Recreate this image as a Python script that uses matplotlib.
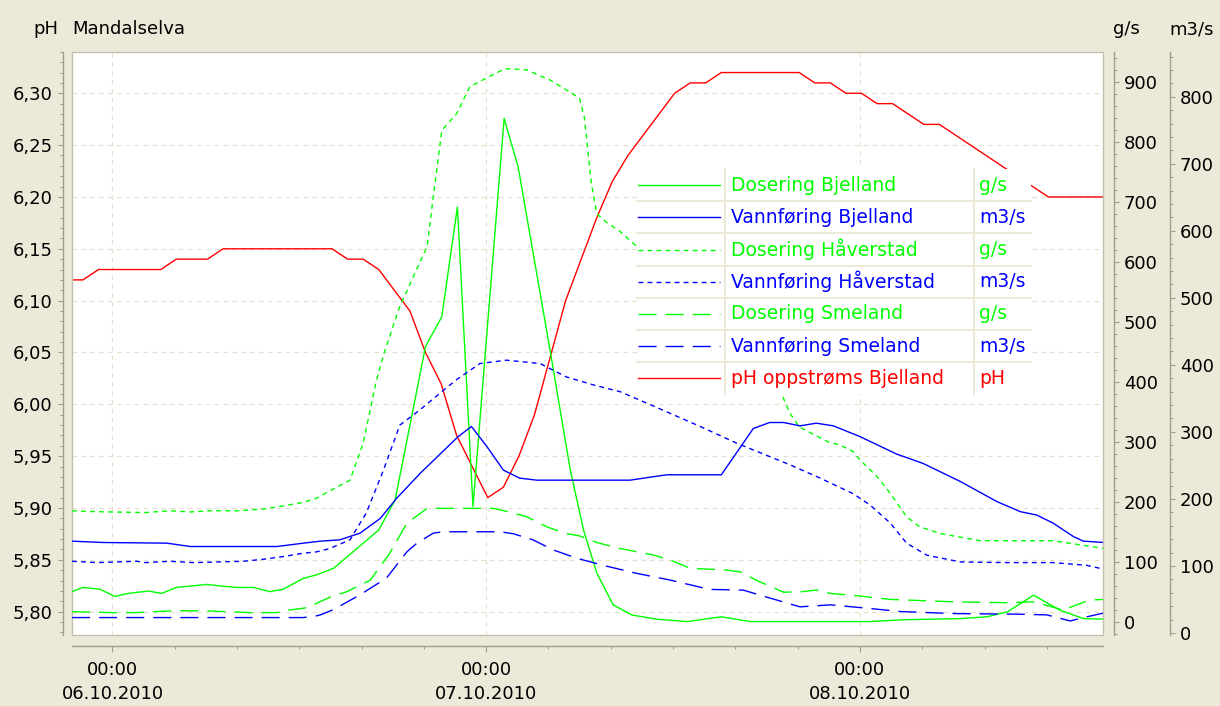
import numpy as np
import pandas as pd
import matplotlib
matplotlib.use("Agg")
import matplotlib.pyplot as plt
import matplotlib.dates as mdates
from matplotlib.ticker import MultipleLocator, FuncFormatter
from matplotlib.lines import Line2D
from matplotlib.patches import Rectangle

plt.rcParams['font.family'] = ['DejaVu Sans']

BASE = pd.Timestamp('2010-10-06 00:00')

# ---- data (hours since 06.10.2010 00:00) ----
ph_hours = [-2.9, -1.9, -0.9, 0.1, 3.1, 4.1, 6.1, 7.1, 14.1, 15.1, 16.1, 17.1, 18.1, 19.1, 20.1,
            21.1, 22.1, 23.1, 24.1, 25.1, 26.1, 27.1, 28.1, 29.1, 30.1, 31.1, 32.1, 33.1, 34.1,
            35.1, 36.1, 37.1, 38.1, 39.1, 44.1, 45.1, 46.1, 47.1, 48.1, 49.1, 50.1, 51.1, 52.1,
            53.1, 54.1, 55.1, 56.1, 57.1, 58.1, 59.1, 60.1, 64.1]
ph_values = [6.12, 6.12, 6.13, 6.13, 6.13, 6.14, 6.14, 6.15, 6.15, 6.14, 6.14, 6.13, 6.11, 6.09,
             6.05, 6.02, 5.97, 5.94, 5.91, 5.92, 5.95, 5.99, 6.045, 6.10, 6.14, 6.18, 6.215, 6.24,
             6.26, 6.28, 6.30, 6.31, 6.31, 6.32, 6.32, 6.31, 6.31, 6.30, 6.30, 6.29, 6.29, 6.28,
             6.27, 6.27, 6.26, 6.25, 6.24, 6.23, 6.22, 6.21, 6.20, 6.20]

dos_bj_hours = [-2.6, -1.9, -0.8, 0.15, 1.0, 2.3, 3.15, 4.1, 4.9, 6.05, 7.1, 8.0, 9.05, 10.1, 10.95,
                12.25, 13.1, 14.2, 15.7, 17.1, 18.15, 20.1, 21.15, 22.15, 23.15, 25.15, 26.05, 28.1,
                29.4, 30.25, 31.1, 32.15, 33.35, 34.95, 36.9, 39.1, 40.95, 48.65, 50.7, 54.45, 56.15,
                57.45, 59.15, 60.85, 62.35, 63.7]
dos_bj_values = [50, 57, 54, 42, 47, 51, 47, 57, 59, 62, 59, 57, 57, 50, 54, 72, 78, 89, 122, 153,
                 203, 459, 509, 692, 192, 840, 759, 453, 253, 153, 81, 28, 11, 4, 0, 8, 0, 0, 3, 5,
                 8, 16, 44, 19, 5, 4]

dos_hv_hours = [-2.6, -1.9, -0.15, 2.1, 3.7, 5.0, 6.25, 8.2, 9.7, 10.95, 12.25, 13.1, 13.95, 15.25,
                16.1, 16.95, 17.5, 18.45, 20.2, 20.6, 21.15, 22.1, 22.95, 25.2, 26.6, 28.1, 29.5,
                30.0, 30.3, 30.75, 31.1, 31.65, 32.6, 33.55, 37.7, 40.3, 42.85, 43.5, 44.1, 45.95,
                46.7, 47.55, 48.0, 49.1, 49.95, 51.0, 51.85, 53.15, 55.7, 60.4, 63.7]
dos_hv_values = [185, 184, 183, 182, 185, 183, 185, 185, 188, 193, 199, 206, 218, 236, 298, 403,
                 453, 526, 626, 709, 820, 848, 893, 923, 921, 904, 882, 873, 842, 732, 681, 668,
                 651, 629, 530, 455, 387, 348, 325, 300, 295, 284, 270, 242, 214, 175, 158, 147,
                 135, 135, 122]

dos_sm_hours = [-2.6, 0.05, 1.55, 2.6, 3.7, 4.35, 6.25, 7.35, 8.85, 10.55, 11.4, 12.45, 13.1, 13.95,
                15.05, 16.55, 17.8, 18.9, 20.2, 24.45, 25.4, 26.6, 27.9, 29.15, 30.0, 31.1, 32.6,
                34.75, 35.8, 37.1, 39.45, 40.3, 41.35, 43.1, 44.35, 45.2, 46.1, 48.0, 49.95, 54.0,
                57.45, 59.15, 61.05, 62.75, 63.7]
dos_sm_values = [16.5, 15, 15, 16.5, 17.7, 18.2, 17.7, 16.5, 15, 15, 19.4, 23, 30.5, 40.5, 50, 69,
                 114, 164, 189, 189, 183.5, 175, 158, 147, 143, 132, 122, 111, 103, 89, 86, 83, 69,
                 49, 50, 52.7, 47, 42.7, 37, 33, 31.5, 33, 19.4, 36, 37]

vf_bj_hours = [-2.6, -0.6, 3.5, 5.0, 10.55, 12.25, 13.35, 14.6, 15.9, 17.2, 18.25, 19.75, 22.2,
               23.05, 24.05, 25.1, 26.15, 27.25, 33.25, 34.1, 35.6, 39.1, 41.15, 42.2, 43.1, 44.15,
               45.2, 46.3, 48.0, 50.35, 52.05, 54.45, 56.8, 58.3, 59.35, 60.4, 61.7, 62.35, 63.7]
vf_bj_values = [137, 135, 134, 129, 129, 134, 137, 139, 149, 171, 201, 238, 293, 308, 278, 243,
                231, 228, 228, 231, 236, 236, 305, 314, 314, 309, 313, 309, 293, 267, 253, 226,
                196, 181, 176, 164, 144, 137, 135]

vf_hv_hours = [-2.6, -1.0, 1.55, 2.1, 3.7, 5.2, 8.4, 9.7, 10.95, 12.25, 13.1, 13.95, 15.25, 16.3,
               17.4, 18.45, 19.75, 21.25, 22.1, 23.6, 25.3, 27.45, 29.15, 30.9, 32.6, 34.3, 37.75,
               40.1, 43.5, 45.45, 47.55, 48.65, 49.95, 51.0, 52.3, 54.45, 57.45, 60.4, 62.55, 63.7]
vf_hv_values = [107, 105, 107, 105, 107, 105, 107, 110, 114, 119, 121, 126, 139, 179, 243, 310,
                333, 362, 378, 402, 407, 402, 382, 370, 360, 343, 308, 283, 251, 231, 208, 191,
                164, 134, 116, 106, 105, 105, 101, 95]

vf_sm_hours = [-2.6, 12.25, 13.0, 13.35, 14.2, 15.9, 17.6, 18.9, 19.55, 20.6, 21.25, 24.9, 25.75,
               27.0, 28.3, 29.75, 31.5, 33.65, 35.8, 38.35, 40.5, 41.8, 44.15, 46.1, 48.45, 50.6,
               54.0, 58.3, 60.0, 61.5, 62.55, 63.7]
vf_sm_values = [23, 23, 25, 27, 35, 57, 82, 121, 134, 149, 151, 151, 148, 139, 124, 112, 101, 89,
                79, 65, 64, 55, 39, 42, 37, 32, 29, 28, 27, 18, 24, 30]

legend_labels = ['Dosering Bjelland', 'Vannføring Bjelland', 'Dosering Håverstad',
                 'Vannføring Håverstad', 'Dosering Smeland', 'Vannføring Smeland',
                 'pH oppstrøms Bjelland']
legend_units = ['g/s', 'm3/s', 'g/s', 'm3/s', 'g/s', 'm3/s', 'pH']

x_range_hours = [-2.62, 63.61]
ph_range = [5.7775, 6.3401]
gs_range = [-22.4, 951.3]
m3_range = [-3.0, 867.2]

# ---- styles ----
GREEN, BLUE, RED = '#00FF00', '#0000FF', '#FF0000'
DOTTED = (0, (3.5, 3.0))
DASHED = (0, (13, 6.5))
BG = '#ECE9D8'
SPINE = '#A09D8F'
GRID = '#E3DFCB'

W, H = 1220, 706


def t(h):
    return BASE + pd.to_timedelta(np.asarray(h, dtype=float), unit='h')


def fx(px):
    return px / W


def fy(py):
    return 1 - py / H


fig = plt.figure(figsize=(W / 100, H / 100), dpi=100, facecolor=BG)
ax = fig.add_axes([fx(71.7), fy(635), (1103 - 71.7) / W, (635 - 51.7) / H])
ax.set_facecolor('white')

ax2 = ax.twinx()
ax3 = ax.twinx()

# lines
ax.plot(t(ph_hours), ph_values, color=RED, lw=1.0)
ax2.plot(t(dos_bj_hours), dos_bj_values, color=GREEN, lw=1.0)
ax2.plot(t(dos_hv_hours), dos_hv_values, color=GREEN, lw=1.0, linestyle=DOTTED)
ax2.plot(t(dos_sm_hours), dos_sm_values, color=GREEN, lw=1.0, linestyle=DASHED)
ax3.plot(t(vf_bj_hours), vf_bj_values, color=BLUE, lw=1.0)
ax3.plot(t(vf_hv_hours), vf_hv_values, color=BLUE, lw=1.0, linestyle=DOTTED)
ax3.plot(t(vf_sm_hours), vf_sm_values, color=BLUE, lw=1.0, linestyle=DASHED)

ax.set_xlim(t(x_range_hours[0]), t(x_range_hours[1]))
ax.set_ylim(*ph_range)
ax2.set_ylim(*gs_range)
ax3.set_ylim(*m3_range)

# spines
for a in (ax, ax2, ax3):
    for s in a.spines.values():
        s.set_visible(False)
ax.spines['left'].set_visible(True)
ax.spines['left'].set_position(('outward', 6.6))
ax.spines['bottom'].set_visible(True)
ax.spines['bottom'].set_position(('outward', 7.9))
ax2.spines['right'].set_visible(True)
ax2.spines['right'].set_position(('outward', 7.9))
ax3.spines['right'].set_visible(True)
ax3.spines['right'].set_position(('outward', 48.2))
for a, side in ((ax, 'left'), (ax, 'bottom'), (ax2, 'right'), (ax3, 'right')):
    a.spines[side].set_color(SPINE)
    a.spines[side].set_linewidth(1.0)

ax.add_patch(Rectangle((0, 0), 1, 1, transform=ax.transAxes, fill=False,
                       edgecolor='#C4C0B0', lw=1.0, clip_on=False, zorder=5))

# y ticks
fmt_ph = FuncFormatter(lambda v, p: f'{v:.2f}'.replace('.', ','))
ax.yaxis.set_major_locator(MultipleLocator(0.05))
ax.yaxis.set_minor_locator(MultipleLocator(0.01))
ax.yaxis.set_major_formatter(fmt_ph)
for a in (ax2, ax3):
    a.yaxis.set_major_locator(MultipleLocator(100))
    a.yaxis.set_minor_locator(MultipleLocator(20))
for a in (ax, ax2, ax3):
    a.tick_params(axis='y', which='major', length=3.6, width=0.8, color=SPINE,
                  labelsize=13, pad=3.4, labelcolor='black')
    a.tick_params(axis='y', which='minor', length=2.0, width=0.7, color=SPINE)

# x ticks
ax.xaxis.set_major_locator(mdates.HourLocator(byhour=[0]))
ax.xaxis.set_minor_locator(mdates.HourLocator(byhour=list(range(0, 24, 4))))
ax.xaxis.set_major_formatter(mdates.DateFormatter('%H:%M\n%d.%m.%Y'))
ax.tick_params(axis='x', which='major', length=4.0, width=0.8, color=SPINE,
               labelsize=13, pad=6.5)
ax.tick_params(axis='x', which='minor', length=2.0, width=0.7, color=SPINE)
for tk in ax.xaxis.get_major_ticks():
    tk.label1.set_linespacing(1.45)

# grid
ax.grid(True, which='major', axis='both', color=GRID, linestyle=(0, (4, 4)), linewidth=0.8)
ax.set_axisbelow(True)

# titles / units
fig.text(fx(33), fy(29), 'pH', fontsize=13, ha='left', va='center')
fig.text(fx(72.5), fy(29), 'Mandalselva', fontsize=13, ha='left', va='center')
fig.text(fx(1113), fy(29), 'g/s', fontsize=13, ha='left', va='center')
fig.text(fx(1169), fy(29), 'm3/s', fontsize=13, ha='left', va='center')

# legend table
leg_left, leg_right = 637, 1031
leg_top, row_h = 169, 32.2
col1, col2 = 725, 973.5
n = len(legend_labels)
leg_bottom = leg_top + n * row_h
fig.add_artist(Rectangle((fx(leg_left), fy(leg_bottom)), (leg_right - leg_left) / W,
                         (leg_bottom - leg_top) / H, transform=fig.transFigure,
                         facecolor='white', edgecolor='none', zorder=20))
for k in range(1, n):
    yy = fy(leg_top + k * row_h)
    fig.add_artist(Line2D([fx(leg_left), fx(leg_right)], [yy, yy], transform=fig.transFigure,
                          color=BG, lw=1.5, zorder=21))
for xc in (col1, col2):
    fig.add_artist(Line2D([fx(xc), fx(xc)], [fy(leg_top), fy(leg_bottom)],
                          transform=fig.transFigure, color=BG, lw=1.5, zorder=21))
styles = [(GREEN, '-'), (BLUE, '-'), (GREEN, DOTTED), (BLUE, DOTTED),
          (GREEN, DASHED), (BLUE, DASHED), (RED, '-')]
for i, (lab, unit) in enumerate(zip(legend_labels, legend_units)):
    yc = fy(leg_top + (i + 0.5) * row_h)
    col, ls = styles[i]
    fig.add_artist(Line2D([fx(638), fx(720)], [yc, yc], transform=fig.transFigure,
                          color=col, lw=1.0, linestyle=ls, zorder=22))
    fig.text(fx(731), yc, lab, color=col, fontsize=13.5, ha='left', va='center', zorder=22)
    fig.text(fx(979), yc, unit, color=col, fontsize=13.5, ha='left', va='center', zorder=22)

fig.savefig('out.png', dpi=100, facecolor=BG)
